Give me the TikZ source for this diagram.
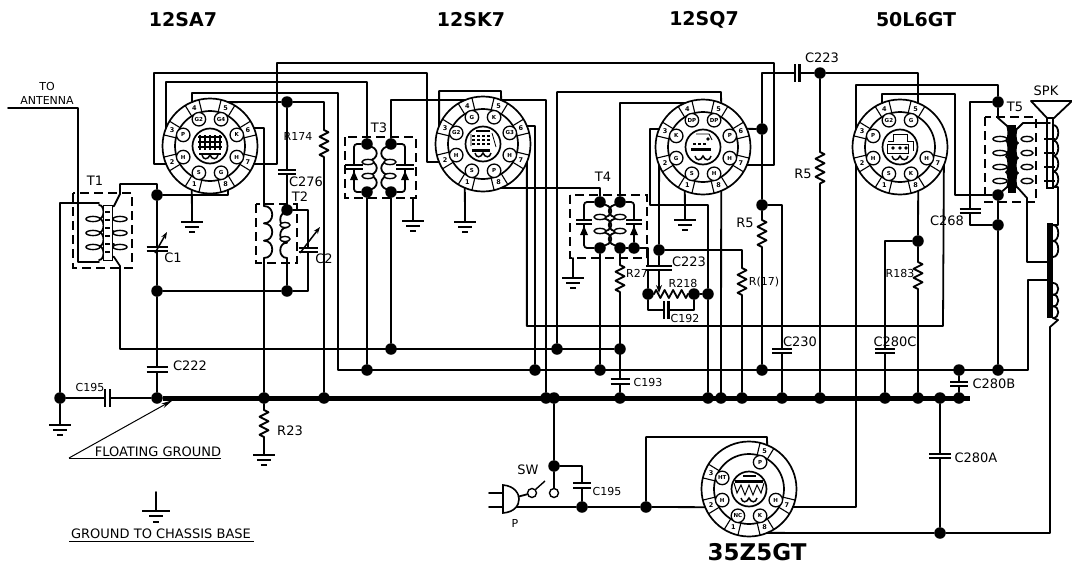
\documentclass[tikz,border=0pt]{standalone}
\usepackage{fontspec}
\setmainfont{DejaVu Sans}
\usetikzlibrary{decorations.pathmorphing,arrows.meta}
\tikzset{
 wire/.style={line width=1.8pt,line cap=round,line join=round},
 bus/.style={line width=5pt},
 plate/.style={line width=2.2pt},
 thinwire/.style={line width=1pt},
 jn/.style={circle,fill=black,inner sep=0pt,minimum size=11.5pt},
 contact/.style={circle,draw,fill=white,line width=1.4pt,inner sep=0pt,minimum size=9pt},
 shield/.style={line width=1.5pt,dash pattern=on 9pt off 5pt},
 zig/.style={wire,decorate,decoration={zigzag,amplitude=4.5pt,segment length=9pt}},
 trimarrow/.style={line width=1.5pt,-{Stealth[length=7pt,width=5pt]}},
 lab/.style={inner sep=0pt,font=\fontsize{13}{14}\selectfont},
 labn/.style={inner sep=0pt,font=\fontsize{11}{12}\selectfont},
 labw/.style={inner sep=0pt,font=\fontsize{13}{14}\selectfont},
 tubename/.style={inner sep=0pt,font=\fontsize{19}{20}\selectfont\bfseries},
 pincirc/.style={circle,draw,fill=white,line width=1.3pt,inner sep=0pt,minimum size=13.5pt,font=\fontsize{5.5}{5.5}\selectfont\bfseries},
 pinnum/.style={inner sep=0pt,font=\fontsize{6.5}{7}\selectfont\bfseries},
 gnd/.pic={
  \draw[line width=1.8pt] (-11,0) -- (11,0) (-7,5) -- (7,5) (-3,10) -- (3,10);
 }
}
\newcommand{\tube}[5]{
 \begin{scope}[shift={(#2,#3)}]
 \draw[line width=1.7pt] (0,0) circle (47.5pt) (0,0) circle (35pt) (0,0) circle (17.5pt);
 \foreach \p/\t in {#4}{
  \pgfmathsetmacro\ang{-67.5-45*\p}
  \coordinate (#1p\p) at (\ang:47.5pt);
  \draw[line width=1.1pt] ({\ang-9}:35pt) -- ({\ang-9}:47.5pt) ({\ang+9}:35pt) -- ({\ang+9}:47.5pt);
  \node[pinnum] (#1n\p) at (\ang:41pt) {\p};
  \node[pincirc] (#1g\p) at (\ang:29pt) {\t};
 }
 #5
 \draw[line width=1.5pt] (-8,9) .. controls (-7,14) and (-2,14) .. (0,9) .. controls (2,14) and (7,14) .. (8,9);
 \end{scope}
}
\newcommand{\coil}[5]{
 \foreach \i in {1,...,#4}{
  \pgfmathsetmacro\ya{#2+(#3-#2)*(\i-1)/#4}
  \pgfmathsetmacro\yb{#2+(#3-#2)*\i/#4}
  \pgfmathsetmacro\xb{#1+#5}
  \draw[wire] (#1,\ya) .. controls (\xb,\ya) and (\xb,\yb) .. (#1,\yb);
 }
}
\newcommand{\loops}[3]{
 \foreach \yy in {#3}{
  \draw[line width=1.4pt,fill=white] (#1,\yy) ellipse (#2pt and 2.6pt);
 }
}
\newcommand{\capv}[3]{
 \begin{scope}[shift={(#1,#2)}]
 \fill[white] (-#3,-2.2) rectangle (#3,2.2);
 \draw[plate] (-#3,-2.2) -- (#3,-2.2) (-#3,2.2) -- (#3,2.2);
 \end{scope}
}
\newcommand{\caph}[3]{
 \begin{scope}[shift={(#1,#2)}]
 \fill[white] (-2.4,-#3) rectangle (2.4,#3);
 \draw[plate] (-2.4,-#3) -- (-2.4,#3) (2.4,-#3) -- (2.4,#3);
 \end{scope}
}
\newcommand{\trimv}[3]{
 \capv{#1}{#2}{#3}
 \fill (#1,#2+4) -- (#1+4,#2+13) -- (#1-4,#2+13) -- cycle;
}
\newcommand{\resv}[4]{
 \coordinate (#1A) at (#2,#3);
 \coordinate (#1B) at (#2,#4);
 \draw[zig] (#1A) -- (#1B);
}
\begin{document}
\begin{tikzpicture}[x=1pt,y=-1pt]
\useasboundingbox (0,0) rectangle (1072,565);
\tube{va}{210}{146}{1/S,2/H,3/P,4/G2,5/G4,6/K,7/H,8/G}{
 \foreach \xx in {-10,-5,0,5,10}{\draw[line width=1.3pt] (\xx,-11) -- (\xx,4);}
 \foreach \yy in {-9,-4,1}{\draw[line width=1.5pt] (-12,\yy) -- (12,\yy);}
 \draw[line width=2.5pt] (-11,8) -- (11,8);
}
\tube{vb}{483}{144}{1/S,2/H,3/G2,4/G,5/K,6/G3,7/H,8/P}{
 \draw[line width=1.5pt] (-7,-13) -- (7,-13);
 \foreach \yy in {-8,-4,0}{\draw[line width=1.5pt,dash pattern=on 3pt off 2pt] (-11,\yy) -- (8,\yy);}
 \draw[line width=0.8pt] (-12,-10) -- (-12,2) (9,-11) -- (13,3);
 \draw[line width=3pt] (-11,6) -- (7,6);
}
\tube{vc}{703}{147}{1/S,2/G,3/K,4/DP,5/DP,6/P,7/H,8/H}{
 \draw[line width=0.9pt] (-7,-13) -- (6,-13) -- (9,-7);
 \fill (5,-8) circle (1.8pt);
 \draw[line width=1.5pt,dash pattern=on 3pt off 2pt] (-10,-3) -- (3,-3);
 \draw[line width=3pt] (-12,2) -- (8,2);
}
\tube{vd}{900}{147}{1/S,2/H,3/P,4/G2,5/G,7/H,8/K}{
 \draw[line width=1pt] (-12,-6) -- (-7,-6) -- (-7,-13) -- (7,-13) -- (7,-6) -- (13,-6) -- (13,4);
 \draw[line width=1pt] (-13,-3) -- (8,-3) -- (8,6) -- (-13,6) -- cycle;
 \foreach \xx in {-7,0,6}{\fill (\xx,1) circle (1.8pt);}
}
\tube{ve}{749}{489}{1/NC,2/H,3/HT,5/P,7/H,8/K}{
 \draw[line width=2pt] (-6,-13) -- (7,-13);
 \draw[line width=3pt] (-14,-8) -- (14,-8);
 \draw[line width=1pt] (-15,-6) -- (-12,4) -- (-8,-4) -- (-4,6) -- (0,-4) -- (4,6) -- (8,-4) -- (12,4) -- (15,-6);
}
\foreach \x in {157,264,324,546,554,620,708,721,742,782,820,885,918,940,959}{
 \node[jn] (b\x) at (\x,398) {};
}
\foreach \x in {367,535,600,762,959,998}{
 \node[jn] (m\x) at (\x,370) {};
}
\foreach \x in {391,557,620}{
 \node[jn] (n\x) at (\x,349) {};
}
\node[jn] (jant) at (60,398) {};
\node[jn] (jca) at (157,195) {};
\node[jn] (jcb) at (157,291) {};
\node[jn] (jcc) at (287,291) {};
\node[jn] (jcd) at (287,102) {};
\node[jn] (tbt) at (287,210) {};
\node[jn] (tca) at (367,144) {};
\node[jn] (tcb) at (391,144) {};
\node[jn] (tcc) at (367,192) {};
\node[jn] (tcd) at (391,192) {};
\node[jn] (tda) at (600,202) {};
\node[jn] (tdb) at (620,202) {};
\node[jn] (tdc) at (600,248) {};
\node[jn] (tdd) at (620,248) {};
\node[jn] (tde) at (634,248) {};
\node[jn] (jvol) at (659,250) {};
\node[jn] (jra) at (648,294) {};
\node[jn] (jrb) at (694,294) {};
\node[jn] (jrc) at (708,294) {};
\node[jn] (jpa) at (762,129) {};
\node[jn] (jpb) at (762,205) {};
\node[jn] (jcp) at (820,73) {};
\node[jn] (jkd) at (918,241) {};
\node[jn] (tfa) at (998,102) {};
\node[jn] (tfb) at (998,195) {};
\node[jn] (tfc) at (998,225) {};
\node[jn] (jsw) at (554,466) {};
\node[jn] (jcs) at (582,507) {};
\node[jn] (jht) at (646,507) {};
\node[jn] (jfl) at (940,533) {};
\node[contact] (swa) at (532,493) {};
\node[contact] (swb) at (554,493) {};
\coordinate (ant) at (8,108);
\coordinate (fl) at (69,458);
\draw[bus] (b157) -- (970,398);
\draw[wire] (jant) -- (b157);
\caph{107.5}{398}{9}
\draw[wire] (jant) -- (60,425);
\pic at (60,425) {gnd};
\draw[wire] (ant) -- (78,108) -- (78,262) -- (99,262);
\draw[wire] (jant) -- (60,203) -- (99,203);
\coil{99}{205}{260}{4}{6}
\loops{93}{7}{219,233,247}
\draw[wire] (jca) |- (120,184) -- (120,194) -- (114,206);
\draw[wire] (114,257) -- (120,266) |- (n620);
\coil{114}{206}{257}{4}{-6}
\loops{120}{7}{219,233,247}
\draw[line width=1pt,fill=white] (103,205) rectangle (112,260);
\foreach \yy in {212,220,228,236,244,252}{\draw[line width=1.2pt] (105,\yy) -- (110,\yy);}
\draw[shield] (73,193) rectangle (132,268);
\node[lab] (lta) at (95,181) {T1};
\draw[wire] (jca) -- (jcb) -- (b157);
\draw[wire] (jcb) -- (jcc);
\draw[wire] (jca) -| (vap8);
\capv{157}{249}{10.5}
\capv{157}{369.5}{10.5}
\draw[trimarrow] (155,253) -- (167,232);
\node[lab] (lca) at (173,258) {C1};
\node[lab] (lcw) at (190,366) {C222};
\draw[wire] (vap1) -- (192,222);
\pic at (192,222) {gnd};
\draw[wire] (vap7) -| (277,63) -- (774,63) |- (vcp7);
\draw[wire] (vap2) -| (154,73) -- (427,73) |- (vbp2);
\draw[wire] (vap3) |- (367,82) -- (tca);
\draw[wire] (vap4) |- (338,93) |- (1028,370) -- (1028,280) -- (1050,280);
\resv{rb}{324}{130}{158}
\draw[wire] (vap5) -- (jcd) -| (rbA);
\draw[wire] (rbB) -- (b324);
\node[labn] (lrb) at (298,136) {R174};
\draw[wire] (jcd) -- (tbt);
\capv{287}{172}{9}
\node[lab] (lcb) at (306,182) {C276};
\draw[wire] (vap6) -| (264,206);
\coil{264}{206}{258}{3}{11}
\draw[wire] (264,258) -- (b264);
\coil{287}{212}{258}{3}{-9}
\loops{285}{5}{225,239}
\draw[wire] (287,258) -- (jcc);
\draw[wire] (tbt) -| (308,291) -- (jcc);
\capv{308}{250}{9.5}
\draw[trimarrow] (300,253) -- (320,227);
\draw[shield] (256,204) rectangle (297,263);
\node[lab] (ltb) at (300,197) {T2};
\node[lab] (lcc) at (324,259) {C2};
\resv{rc}{264}{410}{437}
\draw[wire] (b264) -- (rcA);
\draw[wire] (rcB) -- (264,455);
\pic at (264,455) {gnd};
\node[lab] (lrc) at (290,431) {R23};
\coil{367}{146}{190}{3}{13}
\coil{391}{146}{190}{3}{-13}
\loops{368}{6}{162,176}
\loops{390}{6}{162,176}
\draw[wire,rounded corners=3pt] (tca) -| (354,192) -- (tcc);
\draw[wire,rounded corners=3pt] (tcb) -| (405,192) -- (tcd);
\trimv{354}{167}{9}
\trimv{405}{167}{9}
\draw[shield] (345,137) rectangle (416,198);
\node[lab] (ltc) at (379,128) {T3};
\draw[wire] (413,198) -- (413,221);
\pic at (413,221) {gnd};
\draw[wire] (tcc) -- (m367);
\draw[wire] (tcd) -- (n391);
\draw[wire] (tcb) |- (vbp4);
\draw[wire] (vbp3) |- (501,91) -- (vbp5);
\draw[wire] (vbp5) -| (b546);
\draw[wire] (vbp6) -| (m535);
\draw[wire] (vbp7) |- (943,326) -- (vdp7);
\draw[wire] (vbp8) -| (tda);
\draw[wire] (vbp1) -- (465,222);
\pic at (465,222) {gnd};
\draw[wire] (n557) |- (721,92) -- (vcp5);
\draw[wire] (tdb) |- (vcp4);
\coil{600}{204}{246}{3}{15}
\coil{620}{204}{246}{3}{-15}
\loops{600}{6}{217,231}
\loops{620}{6}{217,231}
\draw[wire,rounded corners=3pt] (tda) -| (584,248) -- (tdc);
\draw[wire,rounded corners=3pt] (tdb) -| (tde);
\trimv{584}{222}{8}
\trimv{634}{222}{8}
\draw[shield] (570,195) rectangle (647,258);
\node[lab] (ltd) at (603,177) {T4};
\draw[wire] (573,258) -- (573,278);
\pic at (573,278) {gnd};
\draw[wire] (tdc) -- (m600);
\resv{rd}{620}{265}{295}
\draw[wire] (tdd) -- (rdA);
\draw[wire] (rdB) -- (b620);
\capv{620}{381.5}{9.5}
\node[labn] (lrd) at (637,273) {R27};
\node[labn] (lcd) at (648,382) {C193};
\draw[wire] (tdd) -- (tde) -| (jra);
\coordinate (rvA) at (654,294);
\coordinate (rvB) at (688,294);
\draw[zig,decoration={amplitude=4pt,segment length=8.5pt}] (rvA) -- (rvB);
\draw[wire] (jra) -- (rvA) (rvB) -- (jrb) -- (jrc);
\draw[wire] (jra) |- (694,310) -- (jrb);
\caph{666}{310}{9}
\draw[wire] (vcp3) -| (650,205) -| (jrc) -- (b708);
\draw[wire] (vcp2) -- (jvol);
\draw[wire,-{Stealth[length=8pt,width=6pt]}] (jvol) -- (659,293);
\capv{659}{268}{13}
\node[lab] (lce) at (689,262) {C223};
\node[labn] (lrv) at (683,283) {R218};
\node[labn] (lcv) at (685,318) {C192};
\resv{re}{742}{268}{298}
\draw[wire] (jvol) -| (reA);
\draw[wire] (reB) -- (b742);
\node[labn] (lre) at (764,282) {R(17)};
\draw[wire] (vcp8) -- (721,398);
\draw[wire] (vcp1) -- (685,220);
\pic at (685,220) {gnd};
\draw[wire] (vcp6) -- (jpa) -- (jpb);
\draw[wire] (jpa) |- (jcp) -| (vdp5);
\caph{797}{73}{9}
\node[lab] (lcf) at (822,58) {C223};
\resv{rf}{762}{220}{250}
\draw[wire] (jpb) -- (rfA);
\draw[wire] (rfB) -- (m762);
\node[lab] (lrf) at (745,223) {R5};
\draw[wire] (jpb) -| (b782);
\capv{782}{351}{10}
\node[lab] (lch) at (800,342) {C230};
\resv{rg}{820}{152}{187}
\draw[wire] (jcp) -- (rgA);
\draw[wire] (rgB) -- (b820);
\node[lab] (lrg) at (803,174) {R5};
\draw[wire] (vdp3) |- (998,85) -- (tfa);
\draw[wire] (vdp4) |- (955,94) |- (tfb);
\draw[wire] (tfa) -| (970,225) -- (tfc);
\capv{970}{211}{10.5}
\node[lab] (lck) at (947,221) {C268};
\draw[wire] (tfb) -- (tfc) -- (m998);
\draw[wire] (vdp8) -- (jkd);
\resv{rk}{918}{262}{293}
\draw[wire] (jkd) -- (rkA);
\draw[wire] (rkB) -- (b918);
\node[labn] (lrk) at (900,273) {R183};
\draw[wire] (jkd) -| (b885);
\capv{885}{351}{10}
\node[lab] (lcl) at (895,342) {C280C};
\draw[wire] (m959) -- (b959);
\capv{959}{384}{9}
\node[lab] (lcm) at (994,384) {C280B};
\draw[wire] (b940) -- (jfl);
\capv{940}{456}{11}
\node[lab] (lcn) at (976,458) {C280A};
\draw[wire] (vep7) -| (vdp2);
\draw[wire] (b554) -- (jsw) -- (swb);
\draw[wire] (jsw) -| (jcs);
\capv{582}{485.5}{9}
\node[labn] (lco) at (607,491) {C195};
\draw[wire] (swa) -- (517,497);
\draw[line width=1.4pt] (swa.45) -- (545,481);
\draw[wire] (515,507) -- (jcs) -- (jht) -- (vep2);
\draw[wire] (jht) |- (767,437) -- (vep5);
\draw[wire] (vep8) -- (jfl) -| (1050,327);
\draw[line width=1.6pt,fill=white] (503,485) .. controls (515,486) and (519,494) .. (519,499) .. controls (519,505) and (515,512) .. (503,513) -- cycle;
\draw[line width=2.5pt] (503,485) -- (503,513);
\draw[wire] (489,493) -- (503,493) (489,507) -- (503,507);
\node[lab] (lsw) at (528,470) {SW};
\node[labn] (lp) at (515,523) {P};
\draw[wire] (tfa) -- (998,118) -- (1006,125);
\draw[wire] (1006,188) -- (tfb);
\coil{1006}{125}{188}{4}{3}
\loops{1000}{7}{139,153,167,181}
\draw[wire] (1018,128) -- (1023,123) -- (1050,123);
\draw[wire] (1018,188) -- (1027,198) -- (1027,262) -- (1050,262);
\coil{1018}{128}{188}{4}{-3}
\loops{1027}{6}{139,153,167,181}
\fill (1008,125) rectangle (1016,193);
\draw[shield] (985,117) rectangle (1036,202);
\node[lab] (ltf) at (1015,107) {T5};
\draw[wire] (1031,101) -- (1072,101) -- (1054,118) -- (1047,118) -- cycle;
\node[lab] (lsp) at (1046,91) {SPK};
\draw[line width=1.3pt] (1047,118) -- (1047,188) -- (1053,188) -- (1053,118);
\foreach \yy in {139,153,167,181}{\draw[line width=2.5pt] (1044,\yy) -- (1055,\yy);}
\coil{1053}{125}{187}{4}{7}
\draw[wire] (1053,187) -- (1058,187) -- (1058,225) -- (1053,225);
\fill (1046.5,223) rectangle (1053,318);
\coil{1053}{225}{257}{2}{7}
\coil{1053}{283}{318}{3}{7}
\draw[wire] (1053,318) -- (1058,320) -- (1050,327);
\draw[thinwire,-{Stealth[length=12pt,width=5pt]}] (fl) -- (173,400);
\draw[thinwire] (fl) -- (221,458);
\node[labw] (lfg) at (158,452) {FLOATING GROUND};
\draw[wire] (156,492) -- (156,511);
\draw[line width=1.7pt] (142,511) -- (170,511) (149,516) -- (163,516) (153,522) -- (159,522);
\node[labw] (lgc) at (161,534) {GROUND TO CHASSIS BASE};
\draw[thinwire] (69,541) -- (254,541);
\node[labn] (lto) at (47,86) {TO};
\node[labn] (lan) at (47,100) {ANTENNA};
\node[labn] (lcq) at (90,387) {C195};
\node[tubename] (nva) at (183,20) {12SA7};
\node[tubename] (nvb) at (471,20) {12SK7};
\node[tubename] (nvc) at (704,20) {12SQ7};
\node[tubename] (nvd) at (916,20) {50L6GT};
\node[tubename,font=\fontsize{23}{24}\selectfont\bfseries] (nve) at (757,552) {35Z5GT};
\end{tikzpicture}
\end{document}
